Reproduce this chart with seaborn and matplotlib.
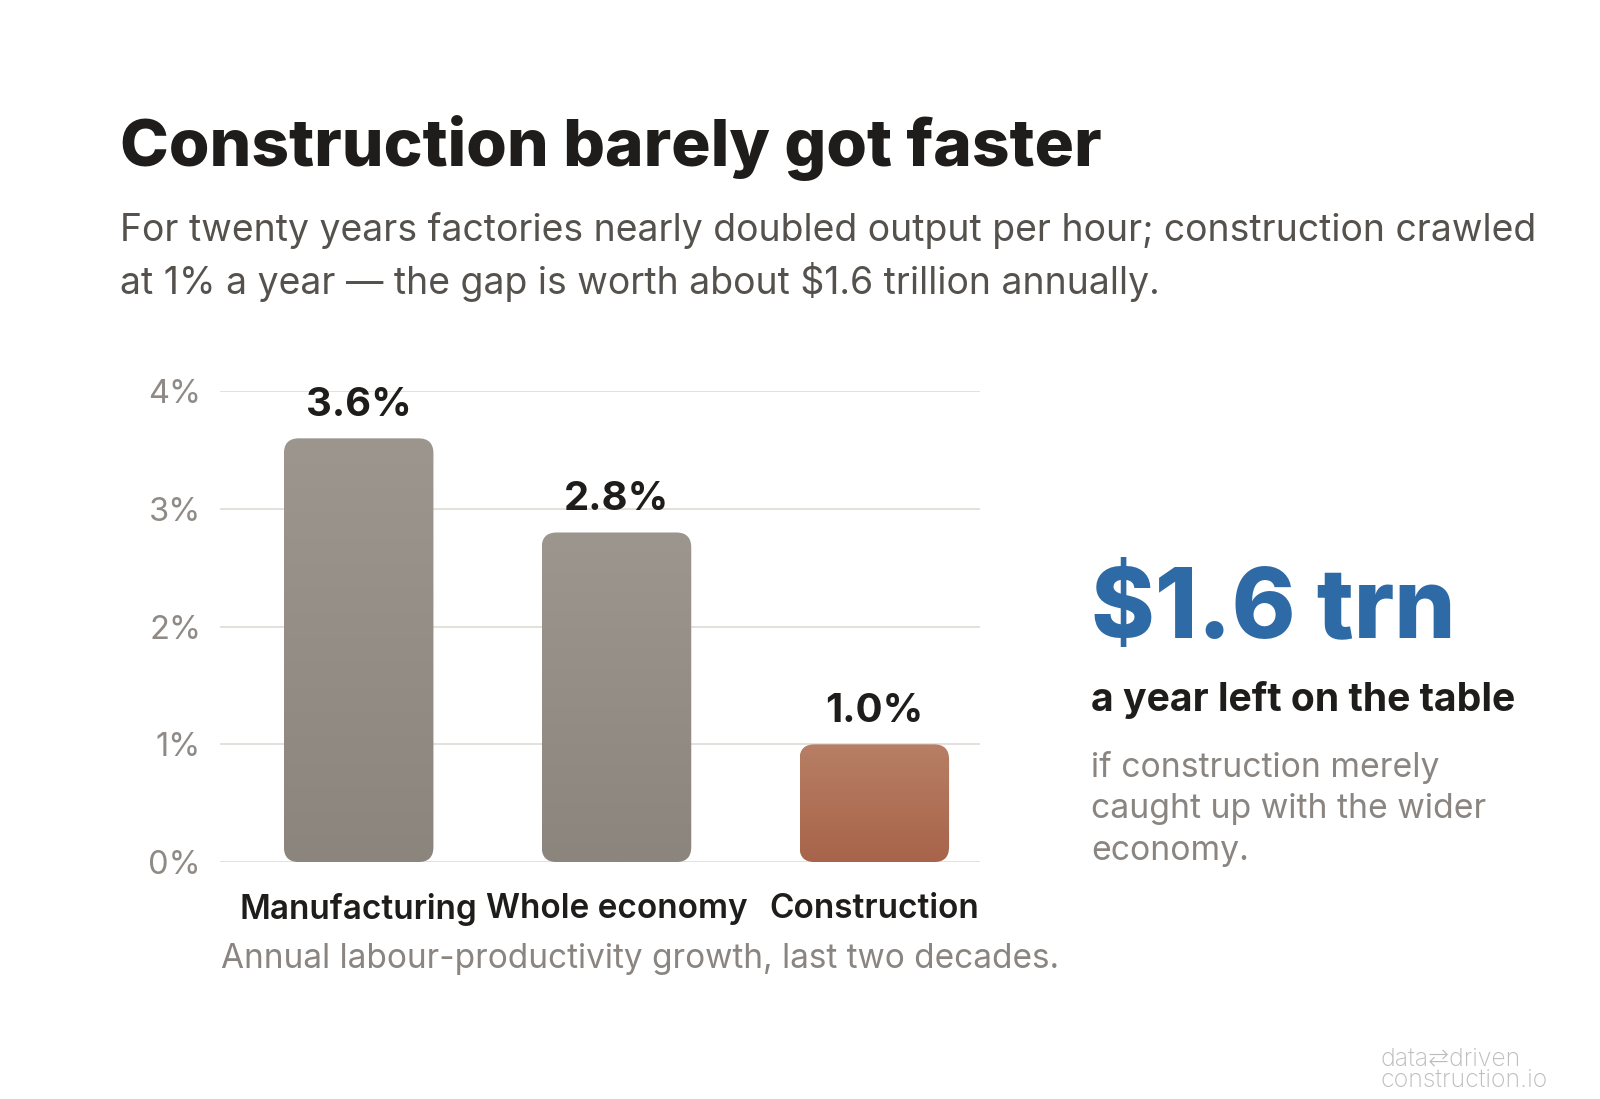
import matplotlib
matplotlib.use("Agg")
import matplotlib.pyplot as plt
import matplotlib.ticker as mtick
from matplotlib.patches import FancyBboxPatch
from matplotlib.colors import LinearSegmentedColormap
import numpy as np
import pandas as pd
import seaborn as sns

sectors = ["Manufacturing", "Whole economy", "Construction"]
growth = [3.6, 2.8, 1.0]
top_colors = ["#9c968f", "#9c968f", "#b77f65"]
bottom_colors = ["#8b857e", "#8b857e", "#a8644a"]

sns.set_theme(style="white")
plt.rcParams["font.family"] = ["Inter", "DejaVu Sans"]

fig = plt.figure(figsize=(16, 10.99), dpi=100)
fig.set_facecolor("white")
ax = fig.add_axes([0.1378, 0.2156, 0.4747, 0.4284])

df = pd.DataFrame({"sector": sectors, "growth": growth})
sns.barplot(data=df, x="sector", y="growth", ax=ax, width=0.58,
            color="#999", saturation=1, zorder=3)

ax.set_xlim(-0.536, 2.41)
ax.set_ylim(0, 4)
ax.set_yticks([0, 1, 2, 3, 4])
ax.yaxis.set_major_formatter(mtick.FuncFormatter(lambda v, p: f"{v:.0f}%"))
ax.grid(axis="y", color="#e4e0dc", lw=1.4, zorder=0)
ax.set_axisbelow(True)
sns.despine(ax=ax, left=True, bottom=True)
ax.set_xlabel("")
ax.set_ylabel("")
ax.tick_params(axis="y", length=0, pad=14, labelsize=23.5, labelcolor="#8f8a85")
ax.tick_params(axis="x", length=0, pad=22, labelsize=24, labelcolor="#1f1d1b")
for t in ax.get_xticklabels():
    t.set_fontweight("semibold")

# rounded, gradient bars built on the seaborn bar geometry
fig.canvas.draw()
tr = ax.transData
px_x = tr.transform((1, 0))[0] - tr.transform((0, 0))[0]
px_y = tr.transform((0, 1))[1] - tr.transform((0, 0))[1]
aspect = px_x / px_y
radius = 15 / px_x
for i, bar in enumerate(list(ax.patches)):
    x0, w, h = bar.get_x(), bar.get_width(), bar.get_height()
    bar.set_visible(False)
    rounded = FancyBboxPatch((x0, 0), w, h,
                             boxstyle=f"round,pad=0,rounding_size={radius}",
                             mutation_aspect=aspect,
                             facecolor="none", edgecolor="none", zorder=3)
    ax.add_patch(rounded)
    cmap = LinearSegmentedColormap.from_list("g", [bottom_colors[i], top_colors[i]])
    grad = np.linspace(0, 1, 256).reshape(-1, 1)
    im = ax.imshow(grad, cmap=cmap, extent=(x0, x0 + w, 0, h), origin="lower",
                   aspect="auto", zorder=3)
    im.set_clip_path(rounded)
    ax.text(x0 + w / 2, h + 0.12, f"{growth[i]:.1f}%", ha="center", va="bottom",
            fontsize=28.8, fontweight="bold", color="#1f1d1b", zorder=4)
ax.set_xlim(-0.536, 2.41)
ax.set_ylim(0, 4)

fig.text(0.075, 0.865, "Construction barely got faster", fontsize=47.3,
         fontweight="heavy", color="#1f1d1b", va="center")
fig.text(0.075, 0.79, "For twenty years factories nearly doubled output per hour; construction crawled",
         fontsize=26.9, color="#55514d", va="center")
fig.text(0.075, 0.743, "at 1% a year \u2014 the gap is worth about $1.6 trillion annually.",
         fontsize=26.9, color="#55514d", va="center")
fig.text(0.138, 0.127, "Annual labour-productivity growth, last two decades.",
         fontsize=24, color="#8a8580", va="center")

fig.text(0.682, 0.443, "$1.6 trn", fontsize=69.6, fontweight="heavy",
         color="#2e6aa6", va="center")
fig.text(0.682, 0.363, "a year left on the table", fontsize=28.2,
         fontweight="bold", color="#1f1d1b", va="center")
fig.text(0.682, 0.317, "if construction merely\ncaught up with the wider\neconomy.",
         fontsize=24.3, color="#8a8580", va="top", linespacing=1.38)

fig.text(0.8627, 0.027, "data\u21c6driven\nconstruction.io", fontsize=17.9, color="#bcbcbc",
         va="center", ha="left", linespacing=0.9, fontweight="light")

fig.savefig("out.png", dpi=100, facecolor="white")
